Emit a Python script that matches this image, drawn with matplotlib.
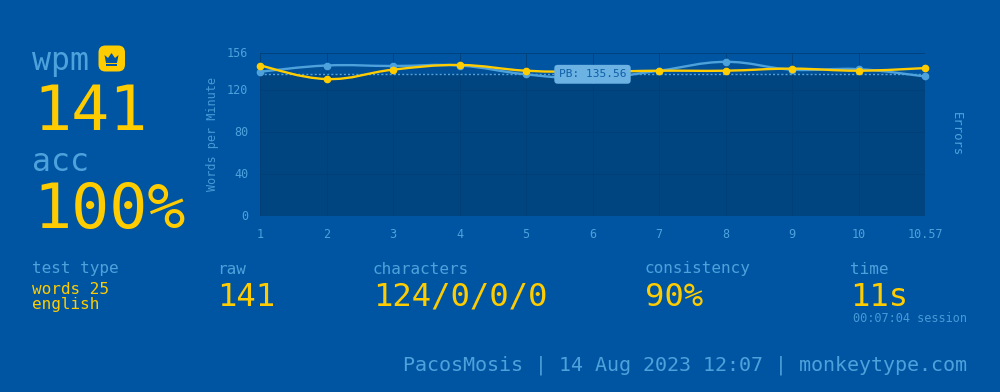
import numpy as np
import matplotlib
matplotlib.use("Agg")
import matplotlib.pyplot as plt
from matplotlib.path import Path
from matplotlib.patches import PathPatch, FancyBboxPatch, Polygon
from matplotlib.transforms import ScaledTranslation

BG = "#0055a3"
MAIN = "#ffcc00"
SUB = "#4ea2dc"
DARK = "#004480"
MID = "#004f97"
GRID = "#004077"
FONT = "DejaVu Sans Mono"

x_tick_labels = ["1", "2", "3", "4", "5", "6", "7", "8", "9", "10", "10.57"]
wpm = [144, 131, 140, 144.5, 139, 138, 139, 139, 141, 139, 141.5]
raw = [138, 144, 143.5, 144, 135.5, 131.5, 139, 147.5, 140, 140.5, 133.5]
pb = 135.56
y_ticks = [0, 40, 80, 120, 156]

W, H = 1000, 392


def smooth_path(xs, ys, tension=0.4):
    # same idea as the bezier curves of chart.js
    xs = np.array(xs, dtype=float)
    ys = np.array(ys, dtype=float)
    verts = [(xs[0], ys[0])]
    codes = [Path.MOVETO]
    n = len(xs)
    for i in range(n - 1):
        x0, y0 = (xs[i - 1], ys[i - 1]) if i > 0 else (xs[i], ys[i])
        x3, y3 = (xs[i + 2], ys[i + 2]) if i < n - 2 else (xs[i + 1], ys[i + 1])
        c1 = (xs[i] + (xs[i + 1] - x0) * tension / 2, ys[i] + (ys[i + 1] - y0) * tension / 2)
        c2 = (xs[i + 1] - (x3 - xs[i]) * tension / 2, ys[i + 1] - (y3 - ys[i]) * tension / 2)
        verts += [c1, c2, (xs[i + 1], ys[i + 1])]
        codes += [Path.CURVE4, Path.CURVE4, Path.CURVE4]
    return Path(verts, codes)


fig = plt.figure(figsize=(W / 100, H / 100), dpi=100, facecolor=BG)
bg = fig.add_axes([0, 0, 1, 1])
bg.set_xlim(0, W)
bg.set_ylim(H, 0)
bg.axis("off")


def label(x, y, s, size, color=SUB, **kw):
    bg.text(x, y, s, fontsize=size, color=color, family=FONT, va="center", ha="left", **kw)


# left big numbers
label(32, 61, "wpm", 22.8)
label(33, 113, "141", 45.5, MAIN)
label(32, 162, "acc", 22.8)
label(33, 211, "100%", 45.5, MAIN)

# crown badge
bg.add_patch(FancyBboxPatch((98.5, 45.5), 26.5, 26, boxstyle="round,pad=0,rounding_size=7",
                            fc=MAIN, ec="none"))
bg.add_patch(Polygon([(104.5, 55), (108, 58), (111.5, 53), (115, 58), (118.5, 55),
                      (117, 63), (106, 63)], closed=True, fc=BG, ec="none"))
bg.add_patch(Polygon([(106, 64), (117, 64), (117, 65.5), (106, 65.5)], closed=True, fc=BG, ec="none"))

# bottom stats
label(32, 269, "test type", 11.5)
label(32, 289, "words 25", 11.5, MAIN)
label(32, 305, "english", 11.5, MAIN)
label(217, 269, "raw", 11.5)
label(217, 297, "141", 23.2, MAIN)
label(373, 269, "characters", 11.5)
label(373, 297, "124/0/0/0", 23.2, MAIN)
label(645, 269, "consistency", 11.5)
label(645, 297, "90%", 23.2, MAIN)
label(850, 269, "time", 11.5)
label(850, 297, "11s", 23.2, MAIN)
label(853, 319, "00:07:04 session", 8.6, alpha=0.9)
label(403, 365, "PacosMosis | 14 Aug 2023 12:07 | monkeytype.com", 14.45)

# chart, the x axis is by category so the last tick is one step on as well
left, right, top, bottom = 260, 925, 53, 215.5
ax = fig.add_axes([left / W, 1 - bottom / H, (right - left) / W, (bottom - top) / H])
ax.set_facecolor("none")
xs = np.arange(len(x_tick_labels))
ax.set_xlim(xs[0], xs[-1])
ax.set_ylim(0, y_ticks[-1])
for s in ax.spines.values():
    s.set_visible(False)

# faint fill under raw, strong fill under pb
raw_path = smooth_path(xs, raw)
fill_verts = np.vstack([raw_path.vertices, [[xs[-1], 0], [xs[0], 0], [xs[0], raw[0]]]])
fill_codes = list(raw_path.codes) + [Path.LINETO, Path.LINETO, Path.CLOSEPOLY]
ax.add_patch(PathPatch(Path(fill_verts, fill_codes), fc=MID, ec="none", zorder=1))
ax.fill_between(xs, 0, pb, color=DARK, lw=0, zorder=1.5)

ax.set_xticks(xs)
ax.set_xticklabels(x_tick_labels)
ax.set_yticks(y_ticks)
ax.grid(True, color=GRID, lw=0.6, zorder=2)
ax.set_axisbelow(False)
ax.tick_params(length=0, labelsize=8.5, labelcolor=SUB, pad=8.5)
ax.tick_params(axis="x", pad=9)
up = ScaledTranslation(0, 1 / 100, fig.dpi_scale_trans)
for t in ax.get_xticklabels() + ax.get_yticklabels():
    t.set_family(FONT)
for t in ax.get_yticklabels():
    t.set_transform(t.get_transform() + up)
ax.set_ylabel("Words per Minute", fontsize=8.5, color=SUB, family=FONT, labelpad=5.5, alpha=0.9)
ax.text(1.047, 0.5, "Errors", transform=ax.transAxes, rotation=-90, fontsize=8.8,
        color=SUB, family=FONT, va="center", ha="center")

ax.axhline(pb, color=SUB, lw=1, ls=(0, (1.5, 1.5)), zorder=3)

ax.add_patch(PathPatch(raw_path, fc="none", ec=SUB, lw=1.7, zorder=4, clip_on=False))
ax.plot(xs, raw, ls="none", marker="o", ms=4.5, color=SUB, zorder=4, clip_on=False)
ax.add_patch(PathPatch(smooth_path(xs, wpm), fc="none", ec=MAIN, lw=1.7, zorder=5, clip_on=False))
ax.plot(xs, wpm, ls="none", marker="o", ms=4.5, color=MAIN, zorder=5, clip_on=False)

# PB label
ax.text(0.5, pb, "PB: %.2f" % pb, transform=ax.get_yaxis_transform(), fontsize=8.0, color="#0f5fa8",
        family=FONT, ha="center", va="center", zorder=6,
        bbox=dict(boxstyle="round,pad=0.4,rounding_size=0.3", fc="#6cb3e4", ec="none"))

fig.savefig("out.png", dpi=100, facecolor=BG)
